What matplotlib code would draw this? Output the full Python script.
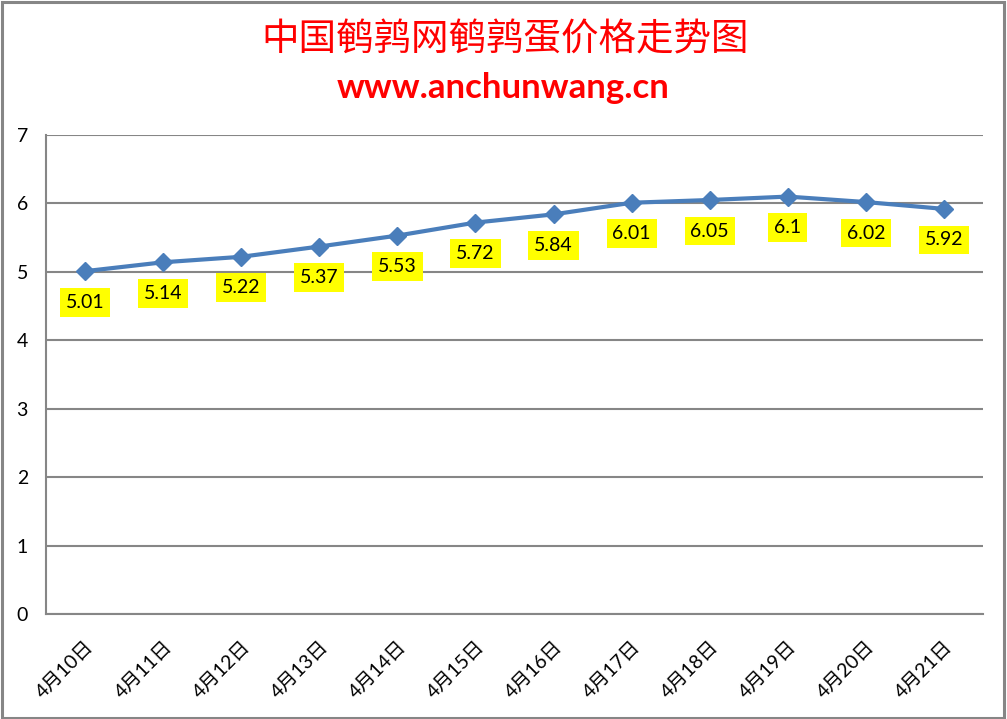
import matplotlib
matplotlib.use("Agg")
import matplotlib.pyplot as plt
from matplotlib.patches import Rectangle

categories = ["4月10日", "4月11日", "4月12日", "4月13日", "4月14日", "4月15日",
              "4月16日", "4月17日", "4月18日", "4月19日", "4月20日", "4月21日"]
prices = [5.01, 5.14, 5.22, 5.37, 5.53, 5.72, 5.84, 6.01, 6.05, 6.1, 6.02, 5.92]
value_labels = ["5.01", "5.14", "5.22", "5.37", "5.53", "5.72", "5.84", "6.01",
                "6.05", "6.1", "6.02", "5.92"]
yticks = [0, 1, 2, 3, 4, 5, 6, 7]

title = "中国鹌鹑网鹌鹑蛋价格走势图"
subtitle = "www.anchunwang.cn"

W, H = 1007, 719
fig = plt.figure(figsize=(W / 100, H / 100), dpi=100)
fig.patch.set_facecolor("white")

# outer frame
fig.add_artist(Rectangle((0.0015, 0.002), 0.996, 0.995, transform=fig.transFigure,
                         fill=False, edgecolor="#868686", linewidth=2.2))

ax = fig.add_axes([46 / W, 105 / H, (983 - 46) / W, (614 - 135) / H])
x = list(range(len(categories)))
ax.plot(x, prices, color="#4A7EBB", linewidth=3.0, marker="D", markersize=9,
        markerfacecolor="#4A7EBB", markeredgecolor="#4A7EBB", zorder=3, clip_on=False)

ax.set_xlim(-0.5, len(categories) - 0.5)
ax.set_ylim(0, 7)
ax.set_yticks(yticks)
ax.set_yticklabels([str(v) for v in yticks], fontsize=14, family=["Lato", "DejaVu Sans"])
ax.grid(axis="y", color="#868686", linewidth=1.5)
ax.set_axisbelow(True)
for s in ["top", "right"]:
    ax.spines[s].set_visible(False)
for s in ["left", "bottom"]:
    ax.spines[s].set_color("#868686")
    ax.spines[s].set_linewidth(1.5)
ax.tick_params(axis="both", length=0)
ax.tick_params(axis="y", pad=13)

ax.set_xticks(x)
ax.set_xticklabels(categories, rotation=45, ha="right", va="top",
                   rotation_mode="anchor", fontsize=14,
                   family=["Lato", "Noto Sans CJK SC"])
ax.tick_params(axis="x", pad=17)

for xi, yi, lab in zip(x, prices, value_labels):
    ax.annotate(lab, (xi, yi), xytext=(0, -31), textcoords="offset pixels",
                ha="center", va="center", fontsize=14, family=["Lato", "DejaVu Sans"],
                bbox=dict(boxstyle="square,pad=0.3", facecolor="#FFFF00", edgecolor="none"),
                zorder=4)

fig.text(505 / W, 1 - 40 / H, title, ha="center", va="center", color="#FF0000",
         fontsize=27, family=["Noto Sans CJK SC", "DejaVu Sans"])
fig.text(503 / W, 1 - 88 / H, subtitle, ha="center", va="center", color="#FF0000",
         fontsize=25, fontweight="bold", family=["Lato", "DejaVu Sans"])

fig.savefig("out.png", dpi=100, facecolor="white")
